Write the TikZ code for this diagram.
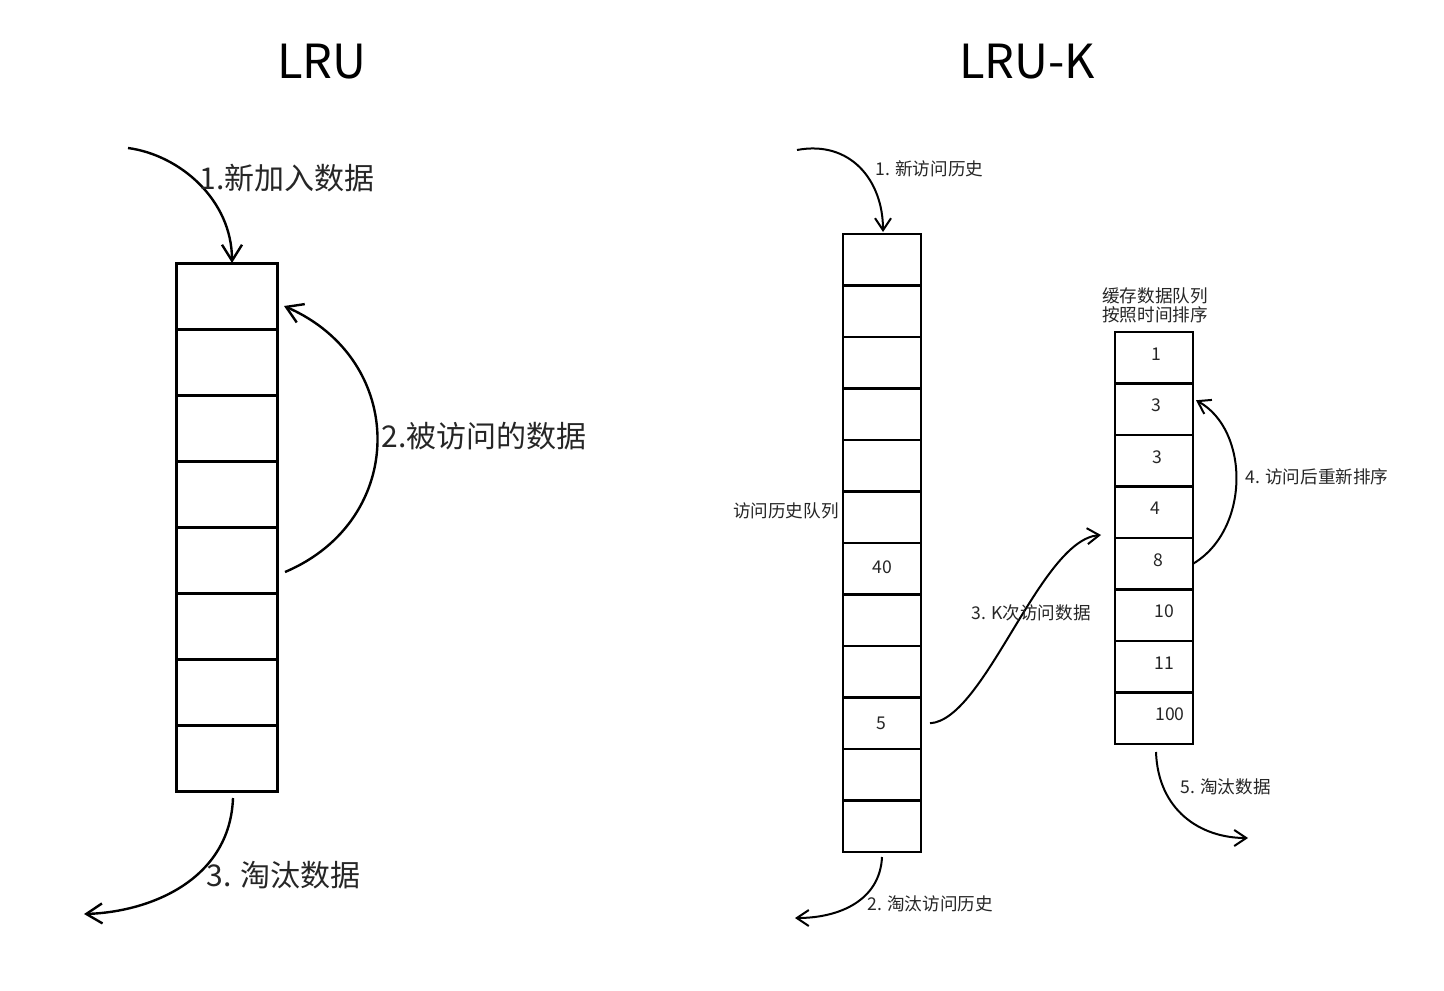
\documentclass[tikz,border=0pt]{standalone}
\usepackage{fontspec}
\setmainfont{Noto Sans CJK SC}
\usetikzlibrary{arrows.meta}
\begin{document}
\begin{tikzpicture}[x=0.5pt,y=-0.5pt]
\tikzset{
 lrucell/.style={draw, line width=1.5pt, minimum width=50.5pt, minimum height=33pt, inner sep=0pt, outer sep=0pt},
 hcell/.style={draw, line width=1.2pt, minimum width=39pt, minimum height=25.75pt, inner sep=0pt, outer sep=0pt, text=black!85, font=\fontsize{8.8pt}{10pt}\selectfont},
 bigarrow/.style={line width=1.2pt, -{Straight Barb[length=8pt,width=10pt]}},
 smallarrow/.style={line width=1pt, -{Straight Barb[length=6pt,width=8pt]}},
 biglabel/.style={inner sep=0pt, text=black!85, font=\fontsize{15pt}{18pt}\selectfont},
 smalllabel/.style={inner sep=0pt, text=black!85, font=\fontsize{8.8pt}{10pt}\selectfont},
 titlelabel/.style={inner sep=0pt, font=\fontsize{23.5pt}{28pt}\selectfont},
}
\useasboundingbox[fill=white] (0,0) rectangle (1444,990);

% titles
\node[titlelabel] (t1) at (322,62) {LRU};
\node[titlelabel] (t2) at (1027,62) {LRU-K};

% LRU column
\foreach \i in {1,...,8} \node[lrucell] (lru\i) at (226.5,{296+66*(\i-1)}) {};

\coordinate (a1s) at (128,148);
\draw[bigarrow] (a1s) .. controls (180,155) and (232,200) .. ([xshift=2.75pt]lru1.north);
\node[biglabel, anchor=west] (l1) at (199,178) {1.新加入数据};

\draw[bigarrow] ([shift={(4pt,-6pt)}]lru5.east) .. controls (408,520) and (408,360) .. ([shift={(3.5pt,-5pt)}]lru1.east);
\node[biglabel, anchor=west] (l2) at (381,436) {2.被访问的数据};

\coordinate (a3e) at (84,914);
\draw[bigarrow] ([shift={(3.25pt,-3.5pt)}]lru8.south) .. controls (230,880) and (150,912) .. (a3e);
\node[biglabel, anchor=west] (l3) at (206,875) {3. 淘汰数据};

% LRU-K history column
\foreach \i in {1,...,12} \node[hcell] (hist\i) at (882,{259.75+51.5*(\i-1)}) {};
\node[smalllabel] (h40) at ([yshift=0.75pt]hist7) {40};
\node[smalllabel] (h5) at ([xshift=-0.5pt]hist10) {5};
\node[smalllabel, anchor=east] (hq) at (839,511) {访问历史队列};

\coordinate (b1s) at (797,150);
\draw[smallarrow] (b1s) .. controls (850,140) and (883,180) .. ([shift={(0.5pt,1pt)}]hist1.north);
\node[smalllabel, anchor=west] (k1) at (875,169) {1. 新访问历史};

\coordinate (b2e) at (795,918);
\draw[smallarrow] ([yshift=-2.5pt]hist12.south) .. controls (880,900) and (840,918) .. (b2e);
\node[smalllabel, anchor=west] (k2) at (867,904) {2. 淘汰访问历史};

% cache column
\foreach \i in {1,...,8} \node[hcell] (c\i) at (1154,{357.75+51.5*(\i-1)}) {};
\foreach \i/\v/\x in {1/1/1151,2/3/1151,3/3/1152,4/4/1150,5/8/1153,6/10/1154,7/11/1154,8/100/1155}
  \node[smalllabel, anchor=west] (v\i) at (\x,{353.75+51.5*(\i-1)}) {\v};
\node[smalllabel, align=center] (cq) at (1155,305) {缓存数据队列\\[-0.5pt]按照时间排序};

\draw[smallarrow] ([xshift=4.5pt]hist10.east) .. controls (985,720) and (1040,540) .. ([shift={(-7pt,1.5pt)}]c5.north west);
\node[smalllabel, anchor=west] (k3) at (971,613) {3. K次访问数据};

\draw[smallarrow] (c5.east) .. controls (1250,530) and (1250,430) .. ([shift={(1.5pt,4.5pt)}]c2.east);
\node[smalllabel, anchor=west] (k4) at (1245,477) {4. 访问后重新排序};

\coordinate (b5e) at (1248,838);
\draw[smallarrow] ([shift={(1pt,-4pt)}]c8.south) .. controls (1158,810) and (1200,838) .. (b5e);
\node[smalllabel, anchor=west] (k5) at (1180,787) {5. 淘汰数据};
\end{tikzpicture}
\end{document}
